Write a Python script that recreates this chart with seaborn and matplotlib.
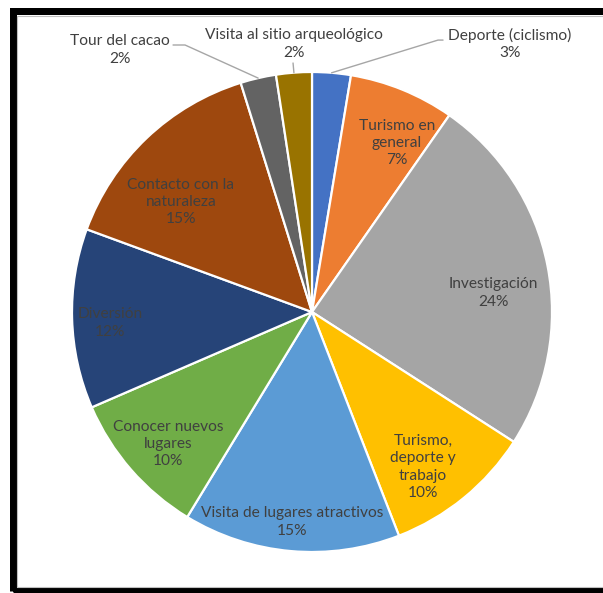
import matplotlib
matplotlib.use("Agg")
import matplotlib.pyplot as plt
from matplotlib.patches import Rectangle
import numpy as np
import seaborn as sns

# Motivos de visita (porcentaje), en el orden horario desde las 12
categorias = [
    "Deporte (ciclismo)",
    "Turismo en general",
    "Investigación",
    "Turismo, deporte y trabajo",
    "Visita de lugares atractivos",
    "Conocer nuevos lugares",
    "Diversión",
    "Contacto con la naturaleza",
    "Tour del cacao",
    "Visita al sitio arqueológico",
]
valores = [2.6, 7.1, 24.4, 10.0, 14.6, 9.8, 12.1, 14.6, 2.4, 2.4]

# Texto de cada etiqueta (con saltos de línea) y su posición en coordenadas del pastel
textos = [
    "Deporte (ciclismo)",
    "Turismo en\ngeneral",
    "Investigación",
    "Turismo,\ndeporte y\ntrabajo",
    "Visita de lugares atractivos",
    "Conocer nuevos\nlugares",
    "Diversión",
    "Contacto con la\nnaturaleza",
    "Tour del cacao",
    "Visita al sitio arqueológico",
]
pos_etiquetas = [
    (0.825, 1.117),
    (0.354, 0.704),
    (0.754, 0.079),
    (0.4625, -0.646),
    (-0.083, -0.875),
    (-0.60, -0.55),
    (-0.842, -0.046),
    (-0.546, 0.458),
    (-0.80, 1.092),
    (-0.075, 1.117),
]
# Etiquetas externas con línea guía: índice -> puntos de quiebre de la línea
guias = {
    0: [(0.525, 1.133), (0.546, 1.133)],
    9: [(-0.079, 1.0375)],
    8: [(-0.529, 1.1125), (-0.579, 1.1125)],
}

colores = ["#4472C4", "#ED7D31", "#A5A5A5", "#FFC000", "#5B9BD5",
           "#70AD47", "#264478", "#9E480E", "#636363", "#997300"]

sns.set_theme(style="white")
plt.rcParams["font.family"] = ["Lato", "DejaVu Sans"]

W, H = 603, 593
fig = plt.figure(figsize=(W / 100, H / 100), dpi=100)
fig.patch.set_facecolor("white")

# Marco negro grueso alrededor del gráfico
lw_px = 7
fig.patches.append(Rectangle((12.5 / W, 2.0 / H), (W + 20) / W, (582 - 2.0) / H,
                             transform=fig.transFigure, fill=False,
                             edgecolor="black", linewidth=lw_px * 0.72, zorder=10))
fig.patches.append(Rectangle((16.5 / W, 6.0 / H), (W + 20) / W, (577 - 6.0) / H,
                             transform=fig.transFigure, fill=False,
                             edgecolor="#BFBFBF", linewidth=0.8, zorder=10))

R = 240
cx, cy = 312, 312
ax = fig.add_axes([(cx - R) / W, (H - cy - R) / H, 2 * R / W, 2 * R / H])
ax.set_facecolor("none")

wedges, _ = ax.pie(
    valores,
    colors=sns.color_palette(colores),
    startangle=90,
    counterclock=False,
    radius=1.0,
    wedgeprops=dict(edgecolor="white", linewidth=1.6),
)
ax.set_xlim(-1, 1)
ax.set_ylim(-1, 1)
ax.set_aspect("equal")
ax.axis("off")

color_texto = "#404040"
for i, (w, txt, (x, y), v) in enumerate(zip(wedges, textos, pos_etiquetas, valores)):
    pct = f"{int(np.floor(v + 0.5))}%"
    ax.text(x, y, f"{txt}\n{pct}", ha="center", va="center", fontsize=11.2,
            color=color_texto, linespacing=1.3, clip_on=False, zorder=5)
    if i in guias:
        ang = np.deg2rad((w.theta1 + w.theta2) / 2)
        pts = [(np.cos(ang), np.sin(ang))] + guias[i]
        xs, ys = zip(*pts)
        ax.plot(xs, ys, color="#A6A6A6", lw=1.0, clip_on=False, zorder=4)

fig.savefig("out.png", dpi=100, facecolor="white")
